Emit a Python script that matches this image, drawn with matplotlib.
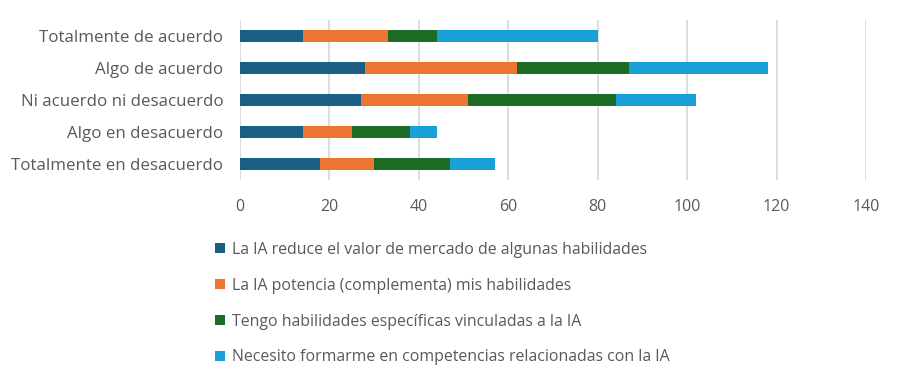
import matplotlib
matplotlib.use("Agg")
import matplotlib.pyplot as plt
import numpy as np

categories = ["Totalmente de acuerdo", "Algo de acuerdo", "Ni acuerdo ni desacuerdo",
              "Algo en desacuerdo", "Totalmente en desacuerdo"]
series_names = ["La IA reduce el valor de mercado de algunas habilidades",
                "La IA potencia (complementa) mis habilidades",
                "Tengo habilidades específicas vinculadas a la IA",
                "Necesito formarme en competencias relacionadas con la IA"]
reduce_valor = [14, 28, 27, 14, 18]
potencia = [19, 34, 24, 11, 12]
especificas = [11, 25, 33, 13, 17]
formarme = [36, 31, 18, 6, 10]
colors = ["#1b5e84", "#ec7632", "#1c6b27", "#1aa0d9"]
xticks = [0, 20, 40, 60, 80, 100, 120, 140]

plt.rcParams['font.family'] = ['Open Sans', 'DejaVu Sans']
text_color = "#595959"

fig = plt.figure(figsize=(9.01, 3.81), dpi=100)
ax = fig.add_axes([240 / 901, 1 - 180 / 381, 626 / 901, 160 / 381])

y = np.arange(len(categories))
left = np.zeros(len(categories))
handles = []
for vals, name, c in zip([reduce_valor, potencia, especificas, formarme], series_names, colors):
    h = ax.barh(y, vals, left=left, height=0.4, color=c, label=name, zorder=3)
    handles.append(h)
    left = left + np.array(vals)

ax.set_ylim(len(categories) - 0.5, -0.5)
ax.set_xlim(0, 140)
ax.set_xticks(xticks)
ax.set_xticklabels([str(t) for t in xticks])
ax.set_yticks(y)
ax.set_yticklabels(categories)
ax.tick_params(axis='both', length=0, colors=text_color)
ax.tick_params(axis='x', pad=14, labelsize=11.5)
ax.tick_params(axis='y', pad=12, labelsize=12.2)
for s in ax.spines.values():
    s.set_visible(False)
ax.xaxis.grid(True, color="#d9d9d9", linewidth=1.3, zorder=0)
ax.set_axisbelow(True)

leg = fig.legend(handles=handles, labels=series_names, loc='upper left',
                 bbox_to_anchor=(215 / 901, 1 - 242 / 381), frameon=False,
                 handlelength=0.6, handleheight=0.6, handletextpad=0.45,
                 labelspacing=1.25, fontsize=11.4, labelcolor=text_color,
                 borderaxespad=0, borderpad=0)

fig.savefig("out.png", dpi=100)
